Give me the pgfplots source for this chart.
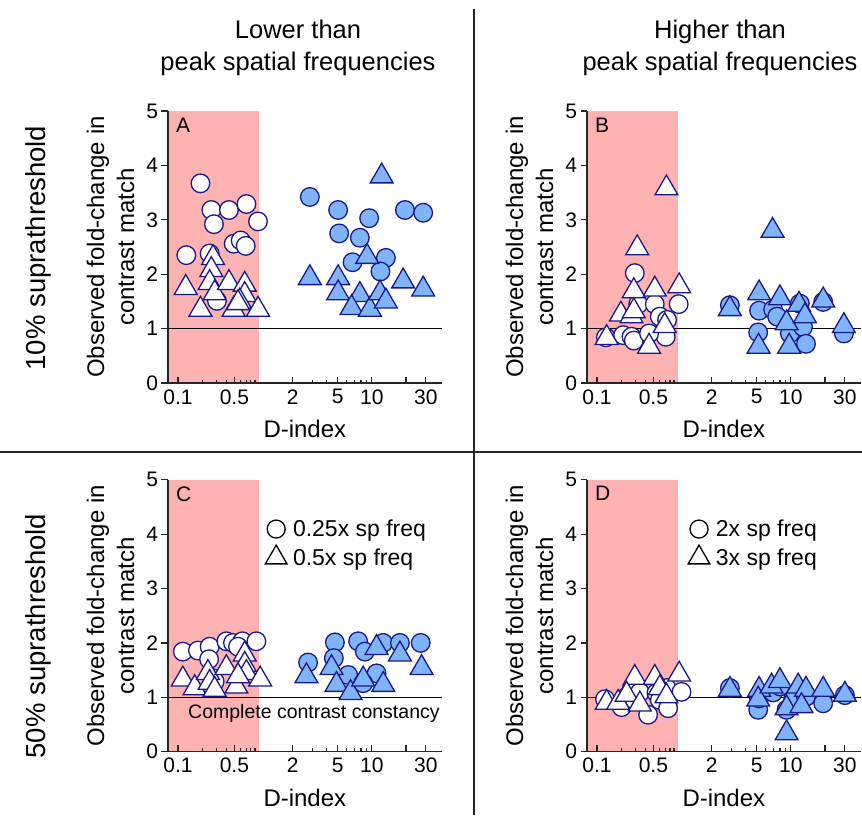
\documentclass[border=0pt]{standalone}
\usepackage{pgfplots}
\pgfplotsset{compat=1.18}
\usepackage{fontspec}
\setmainfont{Liberation Sans}

\definecolor{edge}{RGB}{25,25,135}
\definecolor{fillblue}{RGB}{128,180,248}
\definecolor{shade}{RGB}{255,178,178}

\newcommand{\fs}[1]{\fontsize{#1}{1.25\dimexpr#1pt\relax}\selectfont}

\pgfplotsset{
  dpanel/.style={
    scale only axis, width=273.7pt, height=272pt,
    axis x line*=bottom, axis y line*=left,
    axis line style={line width=1.3pt, black!85, -},
    axis on top, clip=false,
    x coord trafo/.code={\pgfmathparse{ln(##1)/ln(10)*((##1<1)*0.714+(##1>=1))}},
    xmin=0.0745, xmax=41.4, ymin=0, ymax=5,
    xtick={0.1,0.5,2,5,10,20,30},
    xticklabels={0.1,0.5,2,5,10,,30},
    minor xtick={0.2,0.3,0.4,0.6,0.7,0.8,0.9,3,4,6,7,8,9},
    ytick={0,1,2,3,4,5},
    xtick align=inside, ytick align=outside,
    major tick length=6.5pt, minor tick length=3.5pt,
    tick style={line width=1.2pt, black!85},
    /pgf/number format/assume math mode=true,
    tick label style={font=\fs{21}},
    xticklabel style={yshift=-3pt},
    xlabel={D-index}, xlabel style={font=\fs{24}, yshift=-9pt},
    ylabel={Observed fold-change in\\contrast match},
    ylabel style={font=\fs{24}, align=center},
    ylabel shift=5pt,
  },
  oc/.style={only marks, mark=*, mark size=9.3pt, forget plot,
    mark options={draw=edge, fill=white, line width=1.3pt}},
  ot/.style={only marks, mark=triangle*, mark size=13.2pt, forget plot,
    mark options={draw=edge, fill=white, line width=1.3pt}},
  fc/.style={only marks, mark=*, mark size=9.3pt, forget plot,
    mark options={draw=edge, fill=fillblue, line width=1.3pt}},
  ft/.style={only marks, mark=triangle*, mark size=13.2pt, forget plot,
    mark options={draw=edge, fill=fillblue, line width=1.3pt}},
  dlegend/.style={
    legend style={at={(rel axis cs:#1,0.86)}, anchor=north west, draw=none, fill=none,
      font=\fs{23}, inner sep=0pt, row sep=5pt},
    legend cell align=left},
}

\newcommand{\panelback}{%
  \addplot[draw=none, fill=shade, forget plot] coordinates {(0.0745,5) (1,5)} \closedcycle;
}
\newcommand{\unityline}{%
  \addplot[black, line width=1.3pt, forget plot] coordinates {(0.0745,1) (41.4,1)};
}

\begin{document}
\begin{tikzpicture}
\useasboundingbox (0pt,0pt) rectangle (862pt,815pt);

% headers and dividers
\draw[line width=1.3pt, black!85] (474pt,806pt) -- (474pt,0pt);
\draw[line width=1.3pt, black!85] (0pt,363pt) -- (862pt,363pt);
\node[font=\fontsize{25.5}{32}\selectfont, align=center] at (298pt,767pt) {Lower than\\peak spatial frequencies};
\node[font=\fontsize{25.5}{32}\selectfont, align=center] at (720pt,767pt) {Higher than\\peak spatial frequencies};
\node[font=\fs{27.5}, rotate=90] at (38pt,567pt) {10\% suprathreshold};
\node[font=\fs{27.5}, rotate=90] at (38pt,179pt) {50\% suprathreshold};

% A
\begin{axis}[dpanel, at={(168pt,432pt)}, anchor=south west]
\panelback
\addplot[oc] coordinates {(0.19,3.67) (0.127,2.35) (0.259,3.18) (0.279,2.92) (0.428,3.18) (0.704,3.29) (0.98,2.97) (0.247,2.38) (0.49,2.56) (0.598,2.62) (0.69,2.52) (0.304,1.51)};
\addplot[ot] coordinates {(0.125,1.75) (0.19,1.35) (0.272,2.30) (0.259,2.08) (0.247,1.84) (0.285,1.65) (0.428,1.84) (0.49,1.35) (0.671,1.81) (0.671,1.62) (0.582,1.50) (0.98,1.35) (0.554,1.47)};
\addplot[fc] coordinates {(2.83,3.42) (5.03,3.18) (5.14,2.75) (9.46,3.03) (7.83,2.67) (6.75,2.22) (13.3,2.30) (11.9,2.05) (19.6,3.18) (28.4,3.13)};
\addplot[ft] coordinates {(2.83,1.93) (5.03,1.93) (5.03,1.65) (9.09,2.32) (12.2,3.80) (7.83,1.62) (6.61,1.38) (9.6,1.35) (11.8,1.65) (13.3,1.50) (18.9,1.87) (28.4,1.72)};
\unityline
\node[anchor=north west, inner sep=0pt, font=\fs{21}] at (rel axis cs:0.029,0.976) {A};
\end{axis}

% B
\begin{axis}[dpanel, at={(587pt,432pt)}, anchor=south west]
\panelback
\addplot[oc] coordinates {(0.294,2.02) (0.324,1.45) (0.52,1.45) (1.02,1.45) (0.60,1.22) (0.738,1.16) (0.129,0.84) (0.211,0.88) (0.268,0.85) (0.286,0.78) (0.711,0.85) (0.442,0.91)};
\addplot[ot] coordinates {(0.725,3.58) (0.315,2.48) (0.286,1.69) (0.52,1.72) (1.03,1.78) (0.198,1.26) (0.268,1.23) (0.286,1.32) (0.132,0.83) (0.442,0.67) (0.69,1.05)};
\addplot[fc] coordinates {(2.89,1.43) (5.24,1.33) (6.97,1.35) (7.56,1.22) (5.14,0.93) (9.8,0.91) (12.8,1.03) (12.0,1.46) (13.6,0.72) (19.3,1.49) (29.4,0.91)};
\addplot[ft] coordinates {(2.89,1.36) (5.24,1.65) (6.89,2.80) (8.0,1.56) (9.16,1.10) (11.8,1.44) (13.3,1.23) (9.66,0.67) (5.18,0.67) (19.3,1.52) (29.4,1.05)};
\unityline
\node[anchor=north west, inner sep=0pt, font=\fs{21}] at (rel axis cs:0.029,0.976) {B};
\end{axis}

% C
\begin{axis}[dpanel, dlegend=0.355, at={(168pt,63.3pt)}, anchor=south west]
\addlegendimage{only marks, mark=o, black, mark size=9pt, mark options={line width=1.3pt}}
\addlegendentry{\hspace{4pt}0.25x sp freq}
\addlegendimage{only marks, mark=triangle, black, mark size=12.5pt, mark options={line width=1.3pt}}
\addlegendentry{\hspace{4pt}0.5x sp freq}
\panelback
\addplot[oc] coordinates {(0.115,1.84) (0.177,1.86) (0.247,1.93) (0.243,1.70) (0.398,2.03) (0.48,2.0) (0.628,2.03) (0.554,1.93) (0.936,2.03) (0.272,1.35) (0.285,1.29)};
\addplot[ot] coordinates {(0.115,1.33) (0.161,1.17) (0.235,1.45) (0.247,1.27) (0.285,1.14) (0.398,1.54) (0.529,1.20) (0.671,1.79) (0.671,1.60) (0.704,1.45) (1.03,1.33) (0.554,1.39)};
\addplot[fc] coordinates {(2.73,1.64) (4.71,2.01) (4.61,1.72) (6.17,1.41) (7.56,2.03) (8.67,1.84) (11.0,1.44) (12.6,2.0) (17.7,2.0) (27.0,2.0) (8.38,1.26)};
\addplot[ft] coordinates {(2.64,1.39) (4.4,1.54) (4.87,1.23) (6.48,1.08) (8.38,1.33) (11.0,1.91) (12.6,1.23) (17.7,1.79) (27.5,1.54)};
\unityline
\node[anchor=north west, inner sep=0pt, font=\fs{21}] at (rel axis cs:0.029,0.976) {C};
\node[anchor=west, inner sep=0pt, font=\fs{19.5}] at (rel axis cs:0.073,0.139) {Complete contrast constancy};
\end{axis}

% D
\begin{axis}[dpanel, dlegend=0.369, at={(587pt,63.3pt)}, anchor=south west]
\addlegendimage{only marks, mark=o, black, mark size=9pt, mark options={line width=1.3pt}}
\addlegendentry{\hspace{4pt}2x sp freq}
\addlegendimage{only marks, mark=triangle, black, mark size=12.5pt, mark options={line width=1.3pt}}
\addlegendentry{\hspace{4pt}3x sp freq}
\panelback
\addplot[oc] coordinates {(0.126,0.965) (0.202,0.82) (0.233,1.01) (0.268,1.14) (0.294,0.95) (0.309,1.20) (0.34,1.09) (0.43,0.68) (0.546,1.08) (0.6,0.95) (0.725,1.17) (0.76,0.80) (1.08,1.10)};
\addplot[ot] coordinates {(0.132,0.90) (0.294,1.36) (0.52,1.36) (1.03,1.42) (0.183,0.90) (0.233,1.05) (0.6,1.17) (0.725,1.02) (0.34,0.87)};
\addplot[fc] coordinates {(2.89,1.17) (5.14,0.77) (5.24,0.98) (6.97,1.09) (9.16,0.77) (10.5,0.98) (13.6,1.01) (19.3,0.89) (30.0,1.04) (8.0,1.20)};
\addplot[ft] coordinates {(2.89,1.14) (5.24,1.14) (5.14,0.96) (6.75,1.20) (8.0,1.30) (9.16,0.80) (9.16,0.34) (11.6,1.20) (13.6,1.14) (12.4,0.84) (19.3,1.14) (30.0,1.05)};
\unityline
\node[anchor=north west, inner sep=0pt, font=\fs{21}] at (rel axis cs:0.029,0.976) {D};
\end{axis}
\end{tikzpicture}
\end{document}
